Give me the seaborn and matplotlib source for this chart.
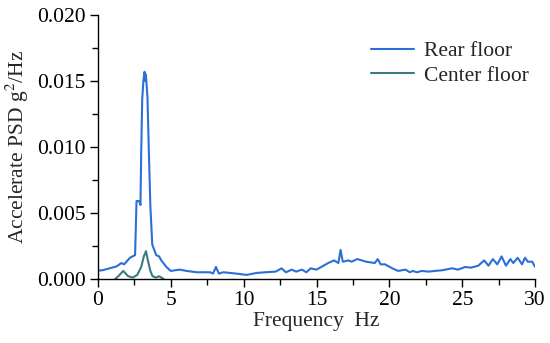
import numpy as np
import pandas as pd
import matplotlib
matplotlib.use("Agg")
import matplotlib.pyplot as plt
from matplotlib.ticker import MultipleLocator, FormatStrFormatter
import seaborn as sns

rear_hz = [0.0, 0.3, 0.8, 1.3, 1.6, 1.8, 2.2, 2.55, 2.65, 2.83, 2.92, 2.97, 3.04, 3.12, 3.2,
           3.25, 3.29, 3.4, 3.5, 3.6, 3.73, 4.0, 4.2, 4.35, 4.7, 5.0, 5.6, 6.1, 6.8, 7.7, 7.9,
           8.1, 8.3, 8.6, 9.5, 10.2, 10.9, 11.5, 12.2, 12.6, 12.9, 13.3, 13.6, 14.0, 14.3,
           14.6, 15.0, 15.4, 15.8, 16.2, 16.5, 16.65, 16.8, 17.2, 17.4, 17.8, 18.4, 19.0,
           19.2, 19.4, 19.7, 20.2, 20.6, 21.1, 21.4, 21.6, 21.9, 22.2, 22.7, 23.1, 23.6,
           24.3, 24.7, 25.2, 25.6, 26.1, 26.5, 26.8, 27.1, 27.4, 27.7, 28.0, 28.3, 28.5,
           28.8, 29.1, 29.3, 29.5, 29.8, 30.0]
rear_psd = [0.00063, 0.00065, 0.0008, 0.00095, 0.0012, 0.0011, 0.0016, 0.0018, 0.0059,
            0.0059, 0.0056, 0.0095, 0.0136, 0.0150, 0.0157, 0.0150, 0.0155, 0.0138, 0.0095,
            0.0055, 0.0026, 0.0018, 0.0017, 0.0014, 0.0009, 0.0006, 0.0007, 0.0006, 0.0005,
            0.0005, 0.0004, 0.0009, 0.0004, 0.0005, 0.0004, 0.0003, 0.00045, 0.0005,
            0.00055, 0.0008, 0.0005, 0.0007, 0.00055, 0.0007, 0.0005, 0.0008, 0.0007,
            0.00095, 0.0012, 0.0014, 0.0012, 0.0022, 0.0013, 0.0014, 0.0013, 0.0015, 0.0013,
            0.0012, 0.0015, 0.0011, 0.0011, 0.0008, 0.0006, 0.0007, 0.0005, 0.0006, 0.0005,
            0.0006, 0.00055, 0.0006, 0.00065, 0.0008, 0.0007, 0.0009, 0.00085, 0.001, 0.0014,
            0.001, 0.0015, 0.0011, 0.0017, 0.001, 0.0015, 0.0012, 0.0016, 0.0011, 0.0016,
            0.0013, 0.0013, 0.0009]

center_hz = [1.2, 1.4, 1.74, 2.08, 2.4, 2.7, 2.97, 3.15, 3.3, 3.45, 3.6, 3.75, 4.0, 4.2, 4.5]
center_psd = [0.0, 0.0002, 0.0006, 0.0002, 0.0001, 0.0003, 0.0009, 0.0017, 0.0021, 0.0013,
              0.0006, 0.0002, 0.0001, 0.0002, 0.0]

series_names = ["Rear floor", "Center floor"]
colors = ["#2c6fd6", "#3a7a80"]

df = pd.concat([
    pd.DataFrame({"Hz": rear_hz, "PSD": rear_psd, "series": series_names[0]}),
    pd.DataFrame({"Hz": center_hz, "PSD": center_psd, "series": series_names[1]}),
])

sns.set_theme(style="ticks")
plt.rcParams["font.family"] = ["Liberation Serif", "DejaVu Serif"]
plt.rcParams["mathtext.fontset"] = "stix"

fs = 15.5
fig = plt.figure(figsize=(5.5, 3.43), dpi=100)
ax = fig.add_axes([0.178, 0.187, 0.795, 0.769])

sns.lineplot(data=df, x="Hz", y="PSD", hue="series", palette=colors,
             estimator=None, sort=False, linewidth=1.5, ax=ax)

ax.set_xlim(0, 30)
ax.set_ylim(0, 0.02)
ax.xaxis.set_major_locator(MultipleLocator(5))
ax.xaxis.set_minor_locator(MultipleLocator(2.5))
ax.yaxis.set_major_locator(MultipleLocator(0.005))
ax.yaxis.set_minor_locator(MultipleLocator(0.0025))
ax.yaxis.set_major_formatter(FormatStrFormatter("%.3f"))
ax.tick_params(which="major", direction="out", length=6, width=1, labelsize=fs,
               colors="black", pad=3)
ax.tick_params(which="minor", direction="out", length=4, width=1, colors="black")
for s in ["top", "right"]:
    ax.spines[s].set_visible(False)
for s in ["left", "bottom"]:
    ax.spines[s].set_linewidth(1)
    ax.spines[s].set_color("black")

ax.set_xlabel("Frequency  Hz", fontsize=fs, labelpad=1)
ax.set_ylabel("Accelerate PSD g$^2$/Hz", fontsize=fs, labelpad=4)

leg = ax.legend(loc="upper right", bbox_to_anchor=(1.03, 0.975), frameon=False,
                fontsize=fs, handlelength=2.0, handletextpad=0.45, labelspacing=0.2,
                title=None)

fig.savefig("out.png", dpi=100)
